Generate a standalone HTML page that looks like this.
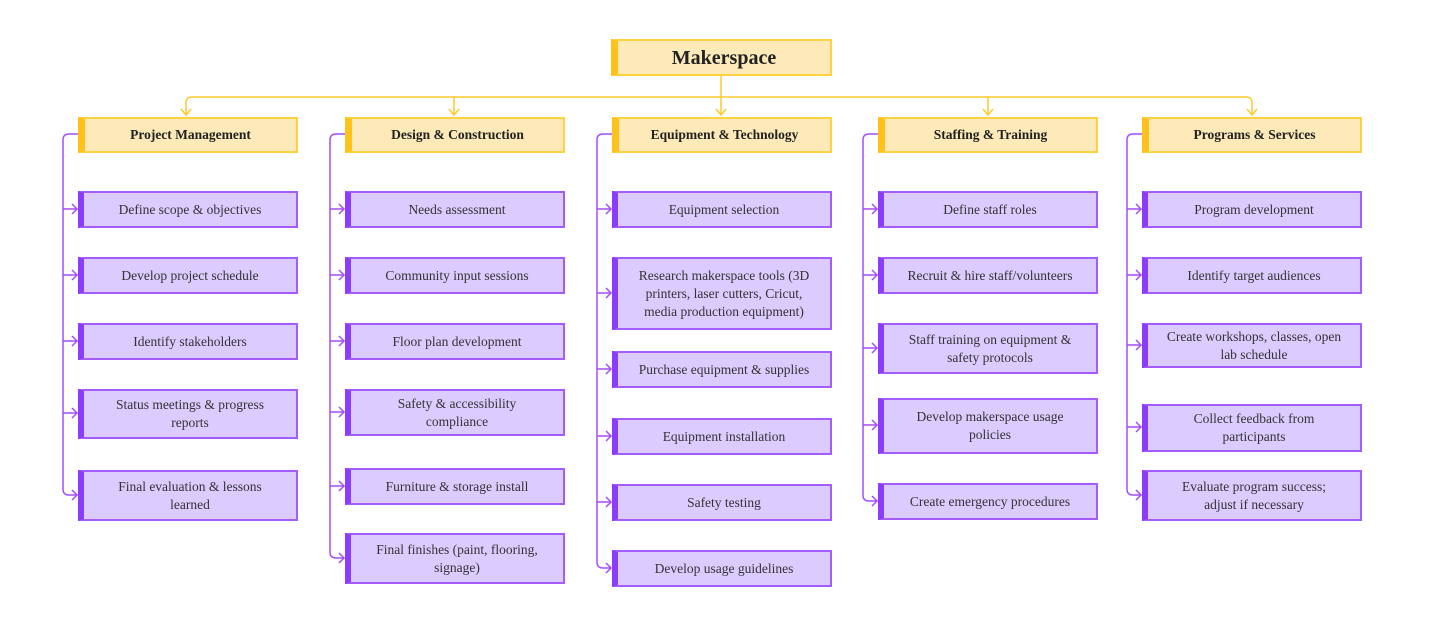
<!DOCTYPE html>
<html><head><meta charset="utf-8"><style>
body{margin:0;width:1434px;height:642px;background:#fff;position:relative;overflow:hidden;font-family:"Liberation Serif",serif;}
.b{position:absolute;box-sizing:border-box;display:flex;align-items:center;justify-content:center;text-align:center;line-height:18px;}
.h{background:#fdeab8;border:2px solid #ffd23f;border-left:7px solid #ffc21a;font-weight:bold;font-size:13.5px;color:#222;height:36px;width:220px;top:117px;}
.c{background:#dccbff;border:2px solid #a45cff;border-left:6px solid #8b3dfb;font-size:13.5px;color:#333;width:220px;padding:0 6px;white-space:nowrap;}
.r{background:#fdeab8;border:2px solid #ffd23f;border-left:7px solid #ffc21a;font-weight:bold;font-size:20px;color:#222;left:611px;top:39px;width:221px;height:37px;}
svg{position:absolute;left:0;top:0}
</style></head><body>
<svg width="1434" height="642" fill="none" stroke-width="1.5">
<g stroke="#ffca2c">
<path d="M721 76V97M192 97H1246M186 115V103Q186 97 192 97M1252 115V103Q1252 97 1246 97M454 97V115M721 97V115M988 97V115"/>
<path d="M181 109L186 115L191 109M449 109L454 115L459 109M716 109L721 115L726 109M983 109L988 115L993 109M1247 109L1252 115L1257 109"/>
</g>
<g stroke="#a64dff">
<path d="M78 134H69Q63 134 63 140V489Q63 495 69 495H77M63 209H77M63 275H77M63 341H77M63 413H77"/>
<path d="M72 204L77 209L72 214M72 270L77 275L72 280M72 336L77 341L72 346M72 408L77 413L72 418M72 490L77 495L72 500"/>
<path d="M345 134H336Q330 134 330 140V552Q330 558 336 558H344M330 209H344M330 275H344M330 341H344M330 412H344M330 486H344"/>
<path d="M339 204L344 209L339 214M339 270L344 275L339 280M339 336L344 341L339 346M339 407L344 412L339 417M339 481L344 486L339 491M339 553L344 558L339 563"/>
<path d="M612 134H603Q597 134 597 140V562Q597 568 603 568H611M597 209H611M597 293H611M597 369H611M597 436H611M597 502H611"/>
<path d="M606 204L611 209L606 214M606 288L611 293L606 298M606 364L611 369L606 374M606 431L611 436L606 441M606 497L611 502L606 507M606 563L611 568L606 573"/>
<path d="M878 134H869Q863 134 863 140V495Q863 501 869 501H877M863 209H877M863 275H877M863 348H877M863 425H877"/>
<path d="M872 204L877 209L872 214M872 270L877 275L872 280M872 343L877 348L872 353M872 420L877 425L872 430M872 496L877 501L872 506"/>
<path d="M1142 134H1133Q1127 134 1127 140V489Q1127 495 1133 495H1141M1127 209H1141M1127 275H1141M1127 345H1141M1127 427H1141"/>
<path d="M1136 204L1141 209L1136 214M1136 270L1141 275L1136 280M1136 340L1141 345L1136 350M1136 422L1141 427L1136 432M1136 490L1141 495L1136 500"/>
</g>
</svg>
<div class="b r">Makerspace</div>
<div class="b h" style="left:78px">Project Management</div>
<div class="b h" style="left:345px">Design &amp; Construction</div>
<div class="b h" style="left:612px">Equipment &amp; Technology</div>
<div class="b h" style="left:878px">Staffing &amp; Training</div>
<div class="b h" style="left:1142px">Programs &amp; Services</div>

<div class="b c" style="left:78px;top:191px;height:37px">Define scope &amp; objectives</div>
<div class="b c" style="left:78px;top:257px;height:37px">Develop project schedule</div>
<div class="b c" style="left:78px;top:323px;height:37px">Identify stakeholders</div>
<div class="b c" style="left:78px;top:389px;height:50px">Status meetings &amp; progress<br>reports</div>
<div class="b c" style="left:78px;top:470px;height:51px">Final evaluation &amp; lessons<br>learned</div>

<div class="b c" style="left:345px;top:191px;height:37px">Needs assessment</div>
<div class="b c" style="left:345px;top:257px;height:37px">Community input sessions</div>
<div class="b c" style="left:345px;top:323px;height:37px">Floor plan development</div>
<div class="b c" style="left:345px;top:389px;height:47px">Safety &amp; accessibility<br>compliance</div>
<div class="b c" style="left:345px;top:468px;height:37px">Furniture &amp; storage install</div>
<div class="b c" style="left:345px;top:533px;height:51px">Final finishes (paint, flooring,<br>signage)</div>

<div class="b c" style="left:612px;top:191px;height:37px">Equipment selection</div>
<div class="b c" style="left:612px;top:257px;height:73px">Research makerspace tools (3D<br>printers, laser cutters, Cricut,<br>media production equipment)</div>
<div class="b c" style="left:612px;top:351px;height:37px">Purchase equipment &amp; supplies</div>
<div class="b c" style="left:612px;top:418px;height:37px">Equipment installation</div>
<div class="b c" style="left:612px;top:484px;height:37px">Safety testing</div>
<div class="b c" style="left:612px;top:550px;height:37px">Develop usage guidelines</div>

<div class="b c" style="left:878px;top:191px;height:37px">Define staff roles</div>
<div class="b c" style="left:878px;top:257px;height:37px">Recruit &amp; hire staff/volunteers</div>
<div class="b c" style="left:878px;top:323px;height:51px">Staff training on equipment &amp;<br>safety protocols</div>
<div class="b c" style="left:878px;top:398px;height:56px">Develop makerspace usage<br>policies</div>
<div class="b c" style="left:878px;top:483px;height:37px">Create emergency procedures</div>

<div class="b c" style="left:1142px;top:191px;height:37px">Program development</div>
<div class="b c" style="left:1142px;top:257px;height:37px">Identify target audiences</div>
<div class="b c" style="left:1142px;top:323px;height:45px">Create workshops, classes, open<br>lab schedule</div>
<div class="b c" style="left:1142px;top:404px;height:48px">Collect feedback from<br>participants</div>
<div class="b c" style="left:1142px;top:470px;height:51px">Evaluate program success;<br>adjust if necessary</div>
</body></html>
